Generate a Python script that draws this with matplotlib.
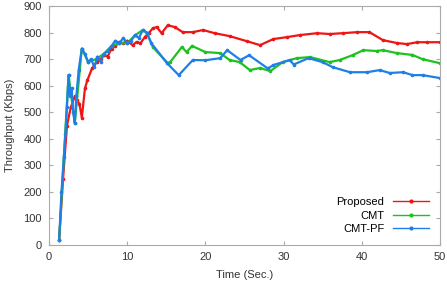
import matplotlib
matplotlib.use("Agg")
import matplotlib.pyplot as plt

# Proposed (red)
prop_t = [1.3, 1.8, 2.3, 2.8, 3.3, 3.6, 3.9, 4.2, 4.6, 4.9, 5.5, 6.1, 6.6, 7.0, 7.5, 8.0,
          8.5, 9.0, 9.5, 10.0, 10.7, 11.2, 11.7, 12.3, 12.8, 13.3, 13.8, 14.4, 15.2,
          16.1, 17.1, 18.4, 19.7, 21.2, 23.1, 25.3, 27.0, 28.7, 30.4, 32.1, 34.3,
          35.9, 37.6, 39.4, 41.0, 42.7, 44.5, 45.8, 47.1, 48.3, 50.0]
prop_v = [20, 250, 450, 520, 560, 545, 530, 480, 590, 620, 665, 690, 700, 715, 710, 740,
          750, 765, 760, 770, 753, 765, 760, 785, 800, 817, 821, 798, 828,
          821, 802, 802, 810, 798, 787, 768, 753, 776, 783, 791, 798,
          795, 798, 802, 802, 772, 761, 757, 764, 764, 764]

# CMT (green)
cmt_t = [1.3, 2.5, 3.3, 4.2, 5.0, 6.0, 7.0, 8.0, 9.0, 10.0, 11.0, 12.0, 12.5, 13.3,
         15.2, 15.5, 17.0, 17.6, 18.3, 20.0, 21.9, 23.1, 24.4, 25.7, 27.0, 28.3,
         29.9, 31.7, 33.4, 35.9, 37.2, 38.9, 40.2, 41.9, 42.7, 44.5, 46.5, 47.8, 50.0]
cmt_v = [20, 640, 460, 740, 690, 700, 720, 750, 760, 760, 790, 810, 800, 745,
         685, 689, 746, 727, 750, 727, 723, 697, 689, 659, 667, 655,
         689, 704, 708, 689, 697, 716, 734, 731, 734, 723, 716, 700, 685]

# CMT-PF (blue)
pf_t = [1.3, 1.6, 1.9, 2.1, 2.3, 2.5, 2.7, 2.9, 3.1, 3.3, 3.5, 3.8, 4.2, 4.6, 5.0,
        5.4, 5.8, 6.2, 6.6, 7.0, 7.5, 8.0, 8.5, 9.0, 9.5, 10.0, 10.5, 11.0, 11.5,
        12.0, 12.5, 13.1, 15.1, 16.6, 18.4, 20.0, 21.9, 22.8, 24.5, 25.6, 28.0,
        28.7, 30.8, 31.3, 33.2, 35.0, 36.3, 38.5, 40.7, 42.3, 43.6, 45.3, 46.5,
        47.8, 50.0]
pf_v = [20, 200, 330, 420, 520, 640, 560, 590, 500, 460, 560, 660, 740, 720, 690,
        700, 670, 710, 690, 720, 730, 750, 770, 760, 780, 760, 770, 790, 780,
        810, 800, 760, 685, 640, 697, 696, 704, 734, 697, 715, 665,
        678, 697, 680, 704, 689, 670, 651, 651, 659, 648, 651, 640,
        640, 629]

plt.rcParams["font.family"] = ["Liberation Sans", "DejaVu Sans"]
plt.rcParams["font.size"] = 8

fig = plt.figure(figsize=(4.47, 2.92), dpi=100)
ax = fig.add_axes([0.1096, 0.161, 0.8744, 0.818])

ax.plot(prop_t, prop_v, color="#ee1515", lw=1.6, marker="o", ms=1.6, label="Proposed")
ax.plot(cmt_t, cmt_v, color="#1ec21e", lw=1.6, marker="o", ms=1.6, label="CMT")
ax.plot(pf_t, pf_v, color="#1f7fe8", lw=1.6, marker="o", ms=1.6, label="CMT-PF")

ax.set_xlim(0, 50)
ax.set_ylim(0, 900)
ax.set_xticks(range(0, 51, 10))
ax.set_yticks(range(0, 901, 100))
ax.tick_params(direction="in", top=True, right=True, length=3, color="#aaaaaa",
               labelcolor="#333333", pad=5)
for s in ax.spines.values():
    s.set_color("#aaaaaa")

ax.set_xlabel("Time (Sec.)", color="#333333", labelpad=6)
ax.set_ylabel("Throughput (Kbps)", color="#333333", labelpad=6)

leg = ax.legend(loc="lower right", frameon=False, markerfirst=False, handlelength=3.2,
                labelspacing=0.3, fontsize=8, borderaxespad=0.6)
for h in leg.get_lines():
    h.set_linewidth(1.0)
    h.set_markersize(2)

fig.savefig("out.png", dpi=100)
